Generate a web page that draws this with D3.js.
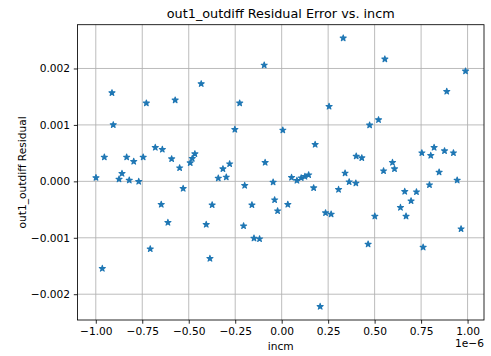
<!DOCTYPE html>
<html><head><meta charset="utf-8">
<script src="https://cdn.jsdelivr.net/npm/d3@7"></script>
<style>body{margin:0;background:#fff} svg{display:block} text{font-family:"DejaVu Sans",sans-serif}</style>
</head><body><svg id="c" width="491" height="356"></svg>
<script>
// incm values (units of 1e-6)
const incm = [-0.999,-0.965,-0.954,-0.913,-0.906,-0.875,-0.859,-0.834,-0.820,-0.796,
  -0.769,-0.745,-0.728,-0.707,-0.680,-0.648,-0.642,-0.612,-0.592,-0.573,
  -0.549,-0.530,-0.492,-0.481,-0.467,-0.433,-0.406,-0.386,-0.374,-0.341,
  -0.316,-0.298,-0.280,-0.252,-0.226,-0.205,-0.199,-0.160,-0.149,-0.119,
  -0.094,-0.089,-0.046,-0.038,-0.022,0.006,0.033,0.053,0.082,0.105,
  0.125,0.145,0.172,0.180,0.207,0.236,0.255,0.266,0.306,0.331,
  0.341,0.363,0.399,0.401,0.431,0.465,0.473,0.501,0.521,0.548,
  0.555,0.596,0.607,0.639,0.662,0.669,0.696,0.725,0.754,0.761,
  0.795,0.802,0.820,0.847,0.876,0.888,0.924,0.944,0.965,0.989];
// residual values (units of 1e-3)
const residual = [0.065,-1.545,0.428,1.568,1.001,0.038,0.139,0.428,0.020,0.352,
  -0.003,0.428,1.386,-1.198,0.600,-0.410,0.565,-0.730,0.398,1.439,
  0.238,-0.127,0.327,0.405,0.487,1.728,-0.765,-1.368,-0.418,0.056,
  0.221,0.074,0.309,0.919,1.386,-0.790,-0.074,-0.418,-1.008,-1.020,
  2.059,0.334,-0.015,-0.329,-0.524,0.907,-0.410,0.068,0.015,0.061,
  0.086,0.114,-0.116,0.653,-2.219,-0.559,1.327,-0.582,-0.145,2.538,
  0.145,-0.010,-0.033,0.446,0.416,-1.114,0.996,-0.618,1.090,0.185,
  2.166,0.334,0.221,-0.464,-0.180,-0.618,-0.347,-0.187,0.504,-1.168,
  -0.063,0.458,0.600,0.162,0.540,1.593,0.504,0.020,-0.843,1.953];
const xTicks = [-1.00,-0.75,-0.50,-0.25,0.00,0.25,0.50,0.75,1.00]; // x 1e-6
const yTicks = [-0.002,-0.001,0.000,0.001,0.002];
const xScaleExp = 1e-6, yScaleExp = 1e-3;
const titleText = "out1_outdiff Residual Error vs. incm";
const xLabel = "incm", yLabel = "out1_outdiff Residual", offsetText = "1e\u22126";

const data = incm.map((v,i)=>({x:v*xScaleExp, y:residual[i]*yScaleExp}));
const L=77.5, R=484, T=24.7, B=320;
const svg = d3.select("#c");
const xe = d3.extent(data,d=>d.x), ye = d3.extent(data,d=>d.y);
const xm=(xe[1]-xe[0])*0.05, ym=(ye[1]-ye[0])*0.05;
const x = d3.scaleLinear().domain([xe[0]-xm, xe[1]+xm]).range([L,R]);
const y = d3.scaleLinear().domain([ye[0]-ym, ye[1]+ym]).range([B,T]);
const minus = s => s.replace("-", "\u2212");
const fs = 10.65;

// grid
const grid = svg.append("g");
grid.selectAll(".gx").data(xTicks).join("line")
  .attr("x1",d=>x(d*xScaleExp)).attr("x2",d=>x(d*xScaleExp)).attr("y1",T).attr("y2",B)
  .attr("stroke","#b0b0b0").attr("stroke-width",0.85);
grid.selectAll(".gy").data(yTicks).join("line")
  .attr("y1",d=>y(d)).attr("y2",d=>y(d)).attr("x1",L).attr("x2",R)
  .attr("stroke","#b0b0b0").attr("stroke-width",0.85);

// points
function starPath(r){const ri=r*0.381966;let p='';for(let i=0;i<10;i++){const a=Math.PI/2+i*Math.PI/5;const rr=i%2?ri:r;p+=(i?'L':'M')+(rr*Math.cos(a)).toFixed(3)+','+(-rr*Math.sin(a)).toFixed(3);}return p+'Z';}
const sp = starPath(3.2);
svg.append("g").selectAll("path").data(data).join("path")
  .attr("d",sp).attr("transform",d=>`translate(${x(d.x)},${y(d.y)})`)
  .attr("fill","#1f77b4").attr("stroke","#1f77b4").attr("stroke-width",1.07).attr("stroke-linejoin","round");

// axes
const xa = svg.append("g").attr("transform",`translate(0,${B})`)
  .call(d3.axisBottom(x).tickValues(xTicks.map(d=>d*xScaleExp)).tickSize(3.7).tickPadding(3.7)
    .tickFormat(d=>minus((d/xScaleExp).toFixed(2))));
const ya = svg.append("g").attr("transform",`translate(${L},0)`)
  .call(d3.axisLeft(y).tickValues(yTicks).tickSize(3.7).tickPadding(3.7)
    .tickFormat(d=>minus(d.toFixed(3))));
[xa,ya].forEach(a=>{a.select(".domain").remove();
  a.attr("font-family","DejaVu Sans").attr("font-size",fs);
  a.selectAll("line").attr("stroke","#000").attr("stroke-width",0.85);
  a.selectAll("text").attr("fill","#000");});

// spines
svg.append("rect").attr("x",L).attr("y",T).attr("width",R-L).attr("height",B-T)
  .attr("fill","none").attr("stroke","#000").attr("stroke-width",0.85);

// labels
svg.append("text").attr("x",(L+R)/2).attr("y",18).attr("text-anchor","middle")
  .attr("font-size",12.8).text(titleText);
svg.append("text").attr("x",(L+R)/2).attr("y",350).attr("text-anchor","middle")
  .attr("font-size",fs).text(xLabel);
svg.append("text").attr("x",R).attr("y",346.5).attr("text-anchor","end")
  .attr("font-size",fs).text(offsetText);
svg.append("text").attr("transform",`translate(25.5,${(T+B)/2}) rotate(-90)`)
  .attr("text-anchor","middle").attr("font-size",fs).text(yLabel);
</script></body></html>
